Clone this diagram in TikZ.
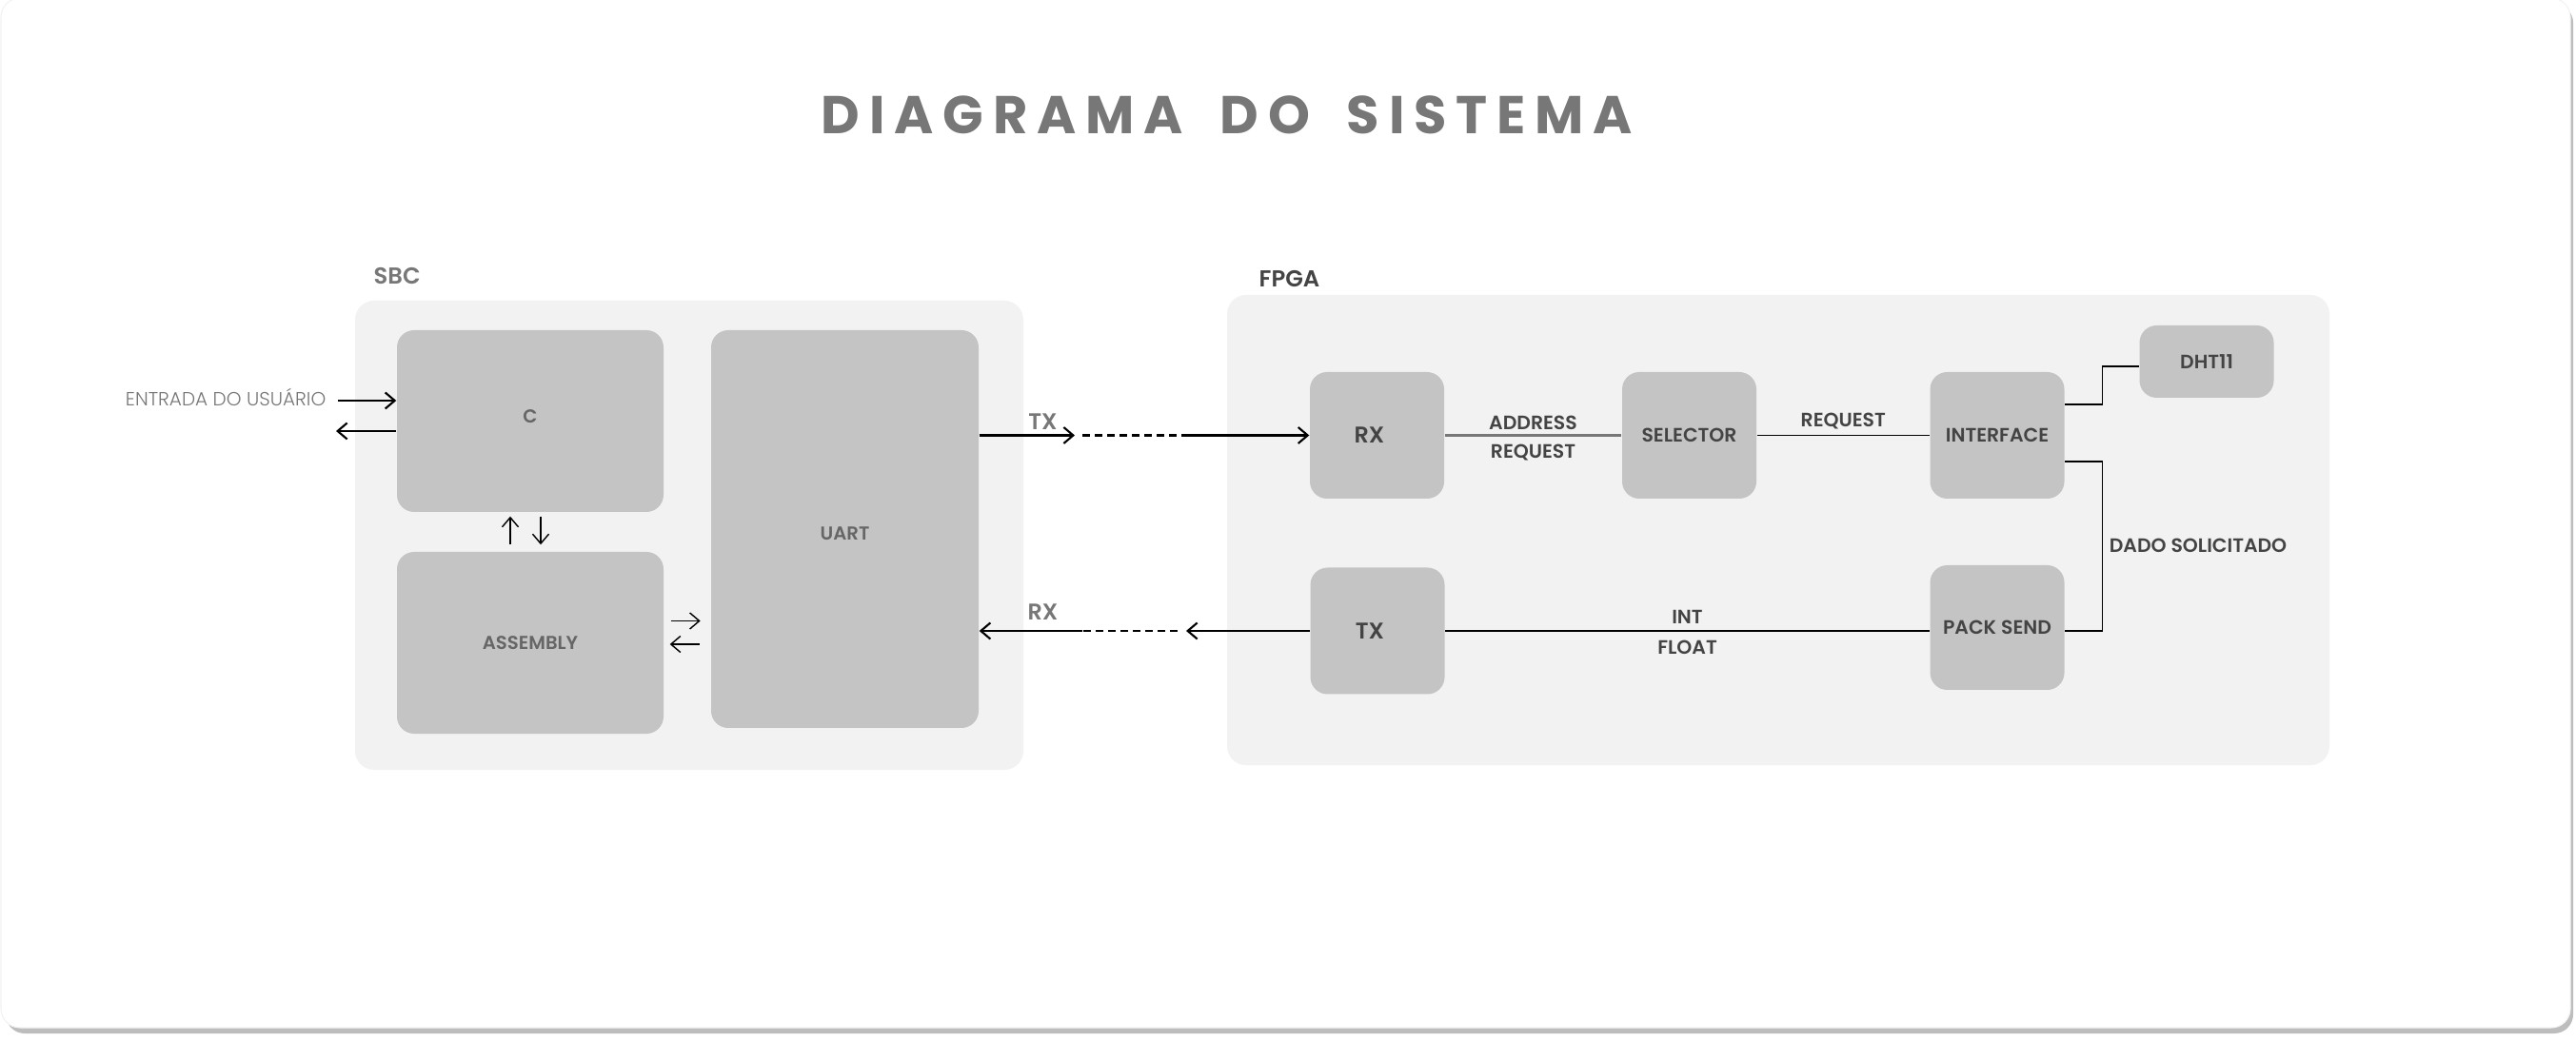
\documentclass[tikz,border=0pt]{standalone}
\usepackage{fontspec}
\setmainfont{Poppins}
\newfontfamily\semibold{Poppins SemiBold}
\newfontfamily\lightfont{Poppins Light}
\newfontfamily\titlefont{Poppins}[LetterSpace=17.7]
\usepackage{tikz}
\usepackage{xcolor}
\definecolor{panelfill}{HTML}{F2F2F2}
\definecolor{blockfill}{HTML}{C4C4C4}
\definecolor{soft}{HTML}{777777}
\definecolor{mid}{HTML}{666666}
\definecolor{dark}{HTML}{444444}
\definecolor{cardshadow}{HTML}{BDBDBD}
\usetikzlibrary{arrows.meta}
\tikzset{
  >={Straight Barb[length=1mm,width=1.7mm]},
  every node/.style={inner sep=0},
  group/.style={fill=panelfill, rounded corners=.2cm},
  sbcbox/.style={fill=blockfill, rounded corners=.18cm, minimum width=2.8cm},
  sbctext/.style={text=mid, font=\semibold\fontsize{5.6}{7}\selectfont},
  box/.style={fill=blockfill, rounded corners=.18cm, minimum width=1.41cm,
    minimum height=1.33cm, text=dark, font=\semibold\fontsize{5.8}{7}\selectfont},
  bigbox/.style={box, font=\semibold\fontsize{6.8}{8}\selectfont},
  grouplabel/.style={font=\semibold\fontsize{6.9}{8}\selectfont, anchor=base west},
  tag/.style={text=dark, font=\semibold\fontsize{5.8}{7}\selectfont},
  link/.style={line width=.6pt},
  wire/.style={line width=.35pt},
  small/.style={line width=.4pt},
  dashes/.style={dash pattern=on 2.3pt off 1.4pt}
}
\newcommand{\gap}{\ \hspace{1.7mm}}

\begin{document}
\begin{tikzpicture}
    %\draw[gray, very thin] (0,0) grid (27,11);
    \useasboundingbox (0,0) rectangle (27.06,10.94);

    \fill[cardshadow, rounded corners=.2cm] (.06,.08) rectangle (27.03,10.9);
    \filldraw[fill=white, draw=black!5, line width=.3pt, rounded corners=.2cm] (.01,.14) rectangle (27.0,10.96);

    \node[font=\titlefont\bfseries\fontsize{15.9}{18}\selectfont, text=soft, anchor=base west] (title) at (8.62,9.53) {DIAGRAMA\gap DO\gap SISTEMA};

    % SBC
    \node[group, minimum width=7.02cm, minimum height=4.93cm] (sbc) at (7.24,5.315) {};
    \node[grouplabel, text=soft] (sbclabel) at (3.92,7.95) {SBC};
    \node[sbcbox, minimum height=1.91cm] (c) at (5.57,6.515) {};
    \node[sbcbox, minimum height=1.91cm] (asm) at (5.57,4.185) {};
    \node[sbcbox, minimum width=2.81cm, minimum height=4.18cm] (uart) at (8.875,5.38) {};
    \node[sbctext] at ([yshift=.5mm]c) {C};
    \node[sbctext] at (asm) {ASSEMBLY};
    \node[sbctext] at ([yshift=-.5mm]uart) {UART};

    \node[text=soft, font=\lightfont\fontsize{5.7}{7}\selectfont, anchor=base east] (entrada) at (3.43,6.67) {ENTRADA DO USUÁRIO};
    \coordinate (usrin) at (3.55,6.73);
    \coordinate (usrout) at (3.53,6.41);
    \draw[link, ->] (usrin) -- (usrin -| c.west);
    \draw[link, ->] (usrout -| c.west) -- (usrout);

    \draw[small, ->] ([xshift=-2.1mm, yshift=.7mm]asm.north) -- ([xshift=-2.1mm, yshift=-.4mm]c.south);
    \draw[small, ->] ([xshift=1.1mm, yshift=-.4mm]c.south) -- ([xshift=1.1mm, yshift=.7mm]asm.north);
    \draw[small, ->] ([shift={(.7mm,2.3mm)}]asm.east) -- ++(.31,0);
    \draw[small, <-] ([shift={(.6mm,-.15mm)}]asm.east) -- ++(.31,0);

    % FPGA
    \node[group, minimum width=11.58cm, minimum height=4.94cm] (fpga) at (18.68,5.37) {};
    \node[grouplabel, text=dark] (fpgalabel) at (13.22,7.92) {FPGA};
    \node[bigbox] (rx) at (14.465,6.365) {RX\kern1.6mm};
    \node[box] (sel) at (17.745,6.365) {SELECTOR};
    \node[box] (iface) at (20.98,6.365) {INTERFACE};
    \node[box, minimum height=.76cm] (dht) at (23.18,7.14) {DHT11};
    \node[bigbox] (tx) at (14.47,4.31) {TX\kern1.6mm};
    \node[box, minimum height=1.31cm] (pack) at (20.98,4.345) {PACK SEND};

    \draw[line width=.65pt, soft] (rx) -- (sel)
        node[tag, midway, anchor=base, yshift=.55mm] {ADDRESS}
        node[tag, midway, anchor=base, yshift=-2.45mm] {REQUEST};
    \draw[wire] (sel) -- (iface) node[tag, midway, anchor=base, yshift=.85mm] {REQUEST};
    \draw[wire] ([yshift=3.25mm]iface.east) -- ++(.39,0) |- ([yshift=-.5mm]dht.west);
    \draw[wire] ([yshift=-2.75mm]iface.east) -- ++(.39,0) |- (tx.east -| pack.east);
    \node[tag] (dado) at (23.09,5.21) {DADO SOLICITADO};
    \draw[wire] (tx) -- (tx.east -| pack.west)
        node[tag, midway, anchor=base, yshift=.7mm] {INT}
        node[tag, midway, anchor=base, yshift=-2.4mm] {FLOAT};

    % UART <-> FPGA
    \coordinate (txa) at (11.29,6.365);
    \coordinate (txb) at (12.46,6.365);
    \draw[link, ->] (uart.east |- txa) -- (txa);
    \draw[link, dashes] ([xshift=.8mm]txa) -- (txb);
    \draw[link, ->] (txb) -- (rx);
    \node[font=\semibold\fontsize{6.8}{8}\selectfont, text=soft, anchor=base] (txlabel) at (10.955,6.42) {TX};

    \coordinate (rxa) at (12.46,4.31);
    \coordinate (rxb) at (11.37,4.31);
    \draw[link, ->] (tx) -- (rxa);
    \draw[link, dashes] ([xshift=-.9mm]rxa) -- (rxb);
    \draw[link, ->] (rxb) -- (rxb -| uart.east);
    \node[font=\semibold\fontsize{6.8}{8}\selectfont, text=soft, anchor=base] (rxlabel) at (10.955,4.42) {RX};
\end{tikzpicture}
\end{document}
